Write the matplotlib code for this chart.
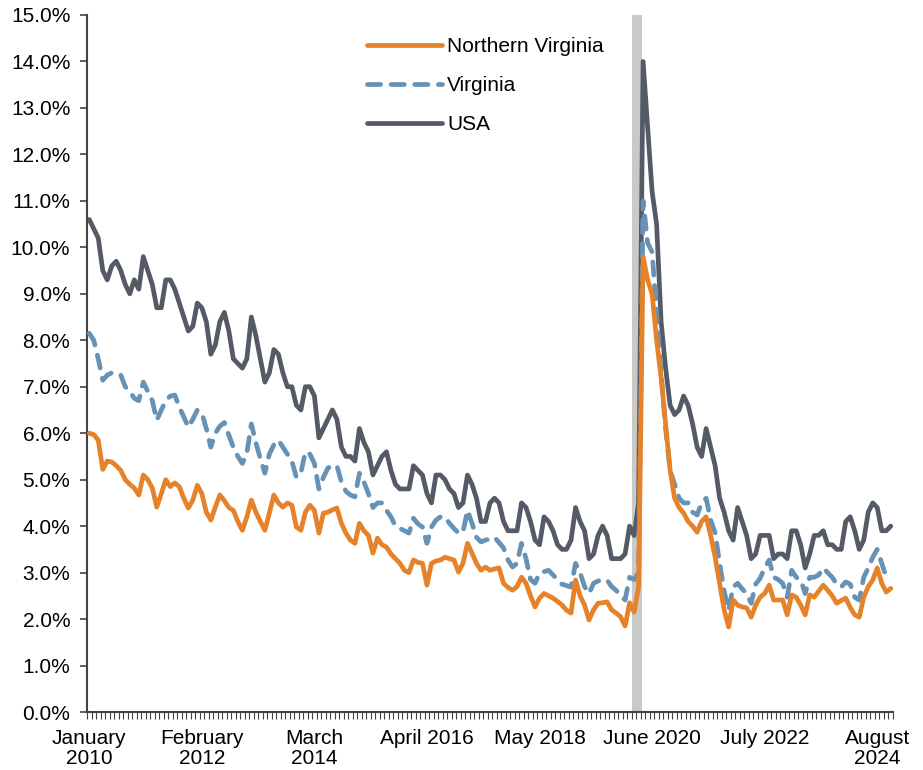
import numpy as np
import matplotlib
matplotlib.use("Agg")
import matplotlib.pyplot as plt

plt.rcParams.update({
    "font.family": ["Liberation Sans", "DejaVu Sans"],
    "font.size": 15,
})

# monthly unemployment rate (%), Jan 2010 .. Nov 2024, one row per year
usa = [
    10.6, 10.4, 10.2, 9.5, 9.3, 9.6, 9.7, 9.5, 9.2, 9.0, 9.3, 9.1,
    9.8, 9.5, 9.2, 8.7, 8.7, 9.3, 9.3, 9.1, 8.8, 8.5, 8.2, 8.3,
    8.8, 8.7, 8.4, 7.7, 7.9, 8.4, 8.6, 8.2, 7.6, 7.5, 7.4, 7.6,
    8.5, 8.1, 7.6, 7.1, 7.3, 7.8, 7.7, 7.3, 7.0, 7.0, 6.6, 6.5,
    7.0, 7.0, 6.8, 5.9, 6.1, 6.3, 6.5, 6.3, 5.7, 5.5, 5.5, 5.4,
    6.1, 5.8, 5.6, 5.1, 5.3, 5.5, 5.6, 5.2, 4.9, 4.8, 4.8, 4.8,
    5.3, 5.2, 5.1, 4.7, 4.5, 5.1, 5.1, 5.0, 4.8, 4.7, 4.4, 4.5,
    5.1, 4.9, 4.6, 4.1, 4.1, 4.5, 4.6, 4.5, 4.1, 3.9, 3.9, 3.9,
    4.5, 4.4, 4.1, 3.7, 3.6, 4.2, 4.1, 3.9, 3.6, 3.5, 3.5, 3.7,
    4.4, 4.1, 3.9, 3.3, 3.4, 3.8, 4.0, 3.8, 3.3, 3.3, 3.3, 3.4,
    4.0, 3.8, 4.5, 14.0, 12.6, 11.2, 10.5, 8.4, 7.4, 6.6, 6.4, 6.5,
    6.8, 6.6, 6.2, 5.7, 5.5, 6.1, 5.7, 5.3, 4.6, 4.3, 3.9, 3.7,
    4.4, 4.1, 3.8, 3.3, 3.4, 3.8, 3.8, 3.8, 3.3, 3.4, 3.4, 3.3,
    3.9, 3.9, 3.6, 3.1, 3.4, 3.8, 3.8, 3.9, 3.6, 3.6, 3.5, 3.5,
    4.1, 4.2, 3.9, 3.5, 3.7, 4.3, 4.5, 4.4, 3.9, 3.9, 4.0,
]

virginia = [
    8.15, 8.0, 7.6, 7.14, 7.25, 7.3, 7.3, 7.25, 7.0, 6.9, 6.75, 6.7,
    7.1, 6.9, 6.7, 6.28, 6.5, 6.7, 6.8, 6.82, 6.56, 6.35, 6.13, 6.3,
    6.5, 6.43, 6.1, 5.7, 6.0, 6.15, 6.23, 5.96, 5.7, 5.5, 5.35, 5.57,
    6.2, 5.8, 5.45, 5.14, 5.55, 5.75, 5.85, 5.7, 5.55, 5.4, 5.05, 5.15,
    5.6, 5.55, 5.35, 4.8, 5.05, 5.25, 5.3, 5.3, 4.95, 4.75, 4.67, 4.63,
    5.14, 4.95, 4.7, 4.4, 4.5, 4.5, 4.34, 4.2, 4.0, 3.95, 3.9, 3.85,
    4.17, 4.05, 3.98, 3.63, 3.98, 4.13, 4.2, 4.2, 4.06, 3.95, 3.85, 3.87,
    4.34, 4.06, 3.76, 3.66, 3.7, 3.72, 3.76, 3.65, 3.53, 3.27, 3.12, 3.2,
    3.63, 3.3, 2.85, 2.77, 2.99, 3.02, 3.05, 2.95, 2.85, 2.75, 2.72, 2.69,
    3.2, 3.0, 2.7, 2.55, 2.77, 2.82, 2.84, 2.84, 2.7, 2.62, 2.5, 2.41,
    2.9, 2.85, 3.0, 11.0, 10.1, 9.9, 8.6, 7.3, 6.1, 5.2, 4.9, 4.6,
    4.5, 4.5, 4.3, 4.24, 4.5, 4.6, 4.13, 3.85, 3.2, 2.6, 2.19, 2.69,
    2.77, 2.65, 2.55, 2.34, 2.75, 2.88, 3.1, 3.27, 2.9, 2.85, 2.77, 2.47,
    3.05, 2.9, 2.84, 2.55, 2.9, 2.9, 2.95, 3.1, 3.0, 2.9, 2.75, 2.69,
    2.8, 2.75, 2.47, 2.41, 2.9, 3.1, 3.33, 3.5, 3.2, 2.9, 2.9,
]

northern_virginia = [
    6.0, 5.97, 5.85, 5.22, 5.4, 5.38, 5.3, 5.2, 5.0, 4.9, 4.82, 4.67,
    5.1, 5.0, 4.82, 4.41, 4.7, 5.0, 4.85, 4.93, 4.85, 4.6, 4.39, 4.56,
    4.88, 4.7, 4.3, 4.13, 4.41, 4.67, 4.55, 4.4, 4.34, 4.1, 3.91, 4.2,
    4.56, 4.3, 4.1, 3.91, 4.28, 4.67, 4.5, 4.41, 4.5, 4.45, 3.98, 3.91,
    4.3, 4.45, 4.34, 3.85, 4.28, 4.3, 4.35, 4.39, 4.06, 3.85, 3.7, 3.63,
    4.06, 3.9, 3.8, 3.42, 3.74, 3.6, 3.55, 3.4, 3.3, 3.2, 3.05, 3.0,
    3.27, 3.22, 3.2, 2.73, 3.2, 3.25, 3.27, 3.33, 3.3, 3.27, 3.01, 3.2,
    3.63, 3.42, 3.2, 3.05, 3.12, 3.05, 3.08, 3.1, 2.77, 2.68, 2.62, 2.7,
    2.9, 2.77, 2.5, 2.26, 2.45, 2.55, 2.5, 2.45, 2.38, 2.3, 2.19, 2.13,
    2.84, 2.5, 2.3, 1.98, 2.2, 2.34, 2.35, 2.37, 2.2, 2.13, 2.05, 1.85,
    2.35, 2.15, 2.7, 9.8, 9.3, 9.0, 8.0, 7.2, 6.2, 5.2, 4.6, 4.4,
    4.28, 4.1, 4.0, 3.87, 4.1, 4.2, 3.8, 3.33, 2.77, 2.2, 1.83, 2.41,
    2.3, 2.26, 2.24, 2.04, 2.3, 2.47, 2.55, 2.73, 2.41, 2.41, 2.41, 2.09,
    2.52, 2.47, 2.3, 2.09, 2.52, 2.47, 2.6, 2.73, 2.62, 2.5, 2.34, 2.4,
    2.45, 2.25, 2.09, 2.04, 2.47, 2.7, 2.84, 3.1, 2.77, 2.58, 2.66,
]

tick_labels = ["January\n2010", "February\n2012", "March\n2014", "April 2016",
               "May 2018", "June 2020", "July 2022", "August\n2024"]
tick_months = [0, 25, 50, 75, 100, 125, 150, 175]
recession = (120.6, 122.8)  # shaded band, in month index

n = len(usa)
x = np.arange(n)

fig = plt.figure(figsize=(9.23, 7.70), dpi=100)
ax = fig.add_axes([87 / 923, 1 - 712 / 770, 806 / 923, 697 / 770])

ax.axvspan(recession[0], recession[1], color="#c9c9c5", lw=0, zorder=1)

ax.plot(x, northern_virginia, color="#e5822a", lw=3.4, solid_capstyle="round",
        solid_joinstyle="round", label="Northern Virginia", zorder=4)
ax.plot(x, virginia, color="#6592b5", lw=3.4, ls=(0, (2.8, 2.2)),
        dash_capstyle="round", dash_joinstyle="round", label="Virginia", zorder=3)
ax.plot(x, usa, color="#545a66", lw=3.4, solid_capstyle="round",
        solid_joinstyle="round", label="USA", zorder=2)

ax.set_xlim(-0.5, n - 0.5)
ax.set_ylim(0, 15)
ax.set_yticks(np.arange(0, 15.1, 1))
ax.set_yticklabels([f"{v:.1f}%" for v in np.arange(0, 15.1, 1)])
ax.set_xticks(tick_months)
ax.set_xticklabels(tick_labels, linespacing=1.05)
ax.set_xticks(np.arange(-0.5, n, 1), minor=True)
ax.tick_params(axis="x", which="major", length=0, pad=12.5)
ax.tick_params(axis="x", which="minor", length=5, width=0.8, color="#444444", direction="out")
ax.tick_params(axis="y", length=5, width=1.2, color="#444444", pad=7)

for side in ["top", "right"]:
    ax.spines[side].set_visible(False)
for side in ["left", "bottom"]:
    ax.spines[side].set_color("#444444")
    ax.spines[side].set_linewidth(1.5)

ax.legend(loc="upper left", bbox_to_anchor=(0.337, 0.98), borderaxespad=0,
          frameon=False, handlelength=3.6, handletextpad=0.25,
          labelspacing=0.95, fontsize=15)

fig.savefig("out.png", dpi=100)
